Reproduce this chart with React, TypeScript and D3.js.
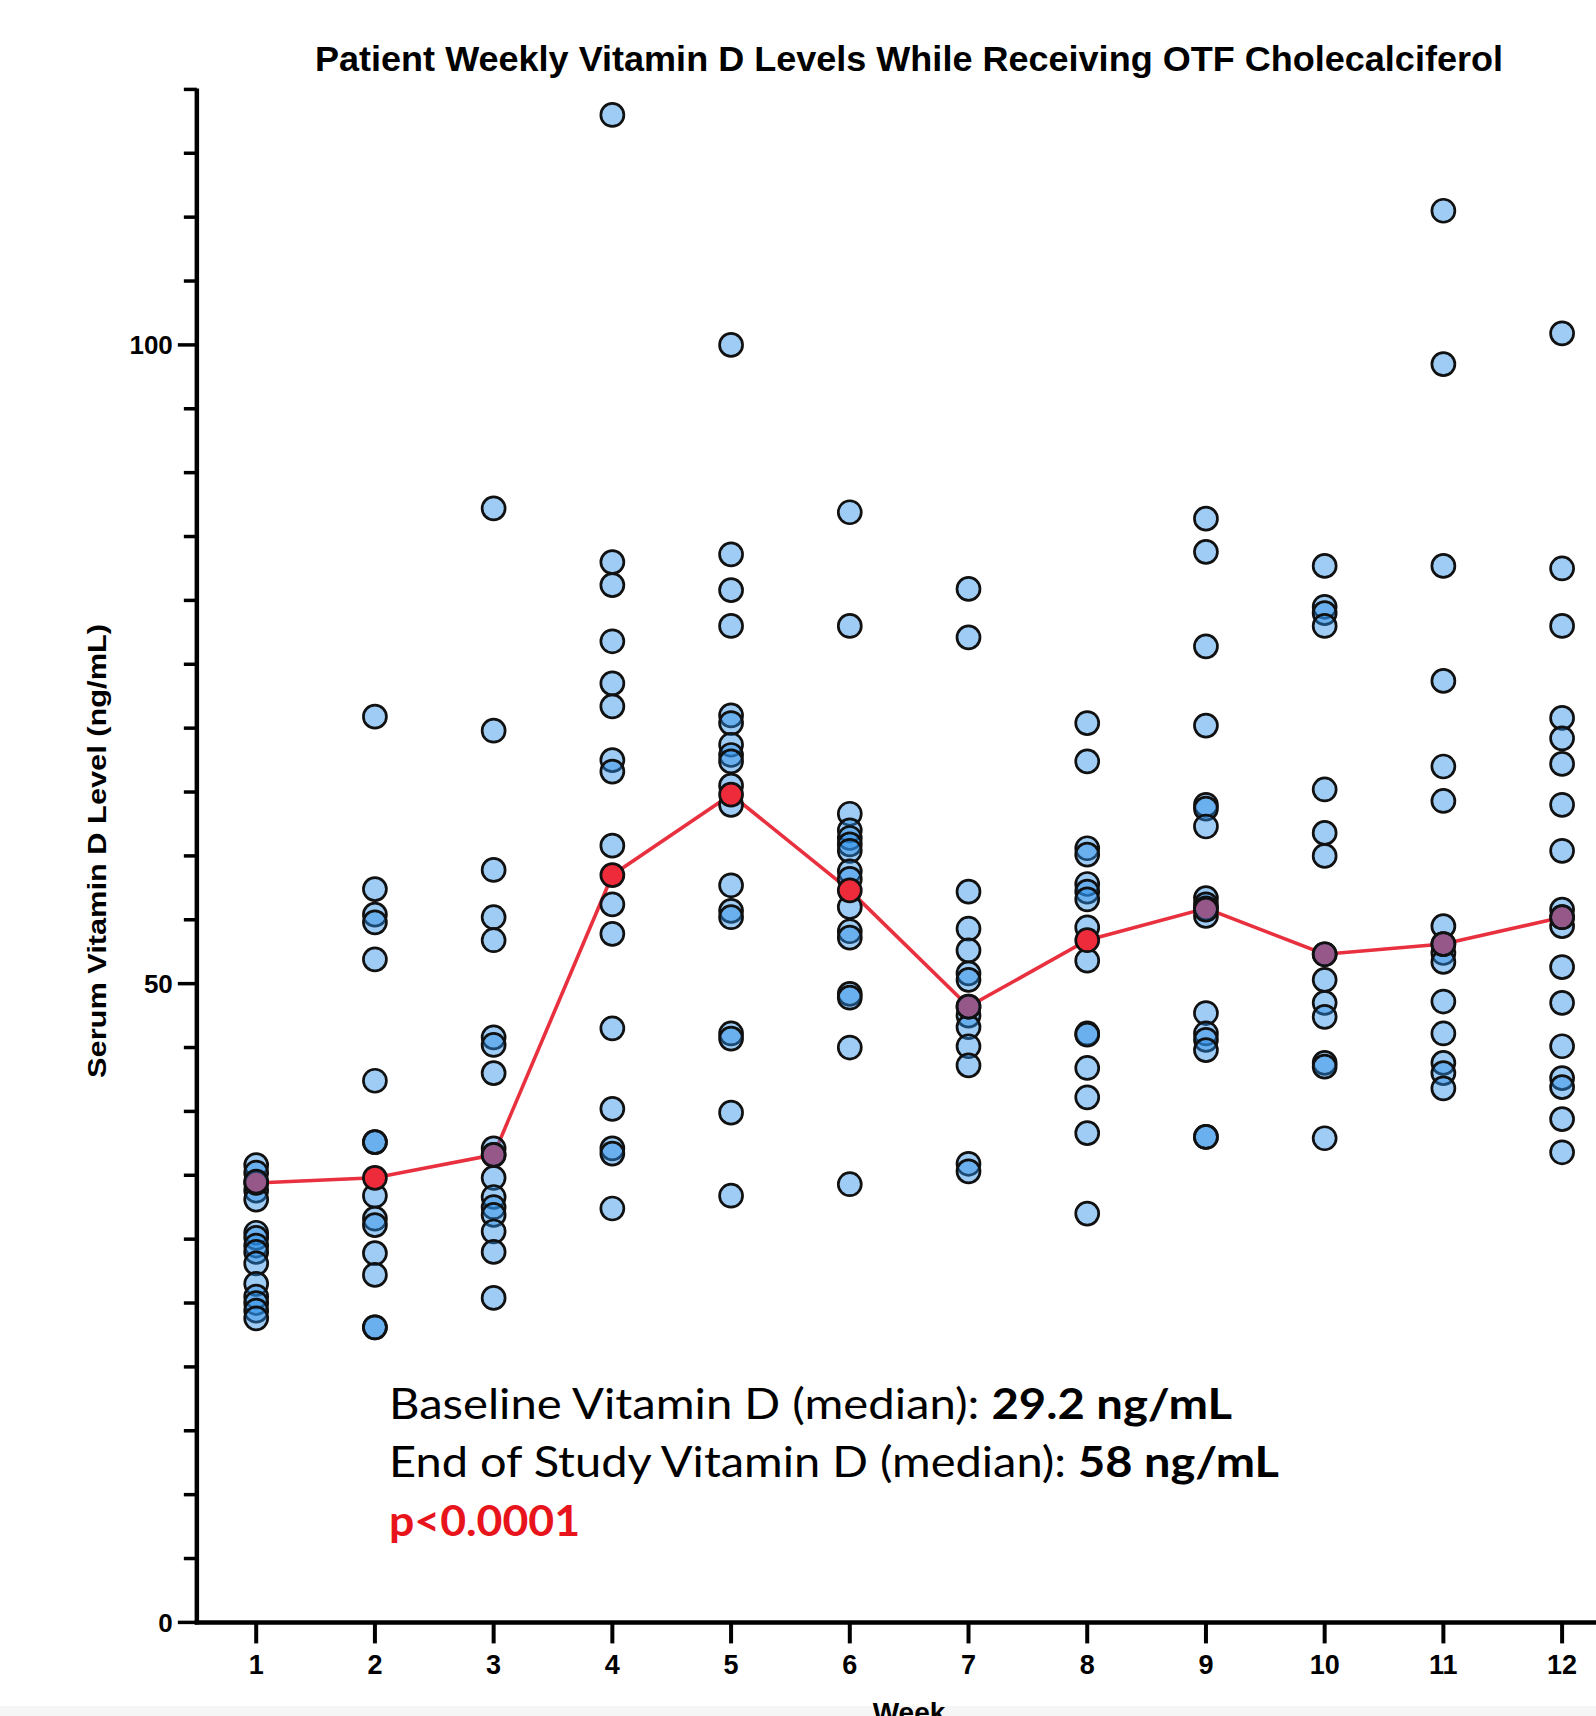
import React from "react";
import * as d3 from "d3";

// ---- data ----
const weeks = [1, 2, 3, 4, 5, 6, 7, 8, 9, 10, 11, 12];
const w1 = [35.8, 35.2, 34.5, 33.8, 33.1, 30.5, 30.1, 29.5, 29.0, 28.1, 26.5, 25.5, 25.0, 24.4, 23.8];
const w2 = [70.9, 57.4, 55.4, 54.8, 51.9, 42.4, 37.6, 37.6, 33.4, 31.6, 31.1, 28.9, 27.2, 23.1, 23.1];
const w3 = [87.2, 69.8, 58.9, 55.2, 53.4, 45.8, 45.2, 43.0, 37.1, 36.6, 34.8, 33.3, 32.5, 31.9, 30.6, 29.0, 25.4];
const w4 = [118.0, 83.0, 81.2, 76.8, 73.5, 71.7, 67.5, 66.6, 60.8, 56.2, 53.9, 46.5, 40.2, 37.1, 36.7, 32.4];
const w5 = [100.0, 83.6, 80.8, 78.0, 71.0, 70.4, 68.7, 67.9, 67.4, 65.5, 64.0, 57.7, 55.7, 55.2, 46.1, 45.7, 39.9, 33.4];
const w6 = [86.9, 78.0, 63.3, 62.0, 61.4, 60.9, 60.4, 58.8, 58.2, 56.0, 54.1, 53.6, 49.2, 48.9, 45.0, 34.3];
const w7 = [80.9, 77.1, 57.2, 54.3, 52.6, 50.8, 50.3, 48.2, 47.5, 46.6, 45.1, 43.6, 35.9, 35.3];
const w8 = [70.4, 67.4, 60.6, 60.1, 57.8, 57.2, 56.6, 54.4, 51.8, 46.1, 46.0, 43.4, 41.1, 38.3, 32.0];
const w9 = [86.4, 83.8, 76.4, 70.2, 64.0, 63.7, 62.3, 56.7, 56.2, 55.8, 55.3, 47.7, 46.1, 45.6, 44.8, 38.0, 38.0];
const w10 = [82.7, 79.5, 79.0, 78.0, 65.2, 61.8, 60.0, 52.3, 50.3, 48.5, 47.4, 43.8, 43.5, 37.9];
const w11 = [110.5, 98.5, 82.7, 73.7, 67.0, 64.3, 54.5, 53.1, 52.4, 51.7, 48.6, 46.1, 43.8, 43.0, 41.8];
const w12 = [100.9, 82.5, 78.0, 70.8, 69.2, 67.2, 64.0, 60.4, 55.8, 55.2, 54.5, 51.3, 48.5, 45.1, 42.6, 41.9, 39.4, 36.8];
const medianLine = [34.4, 34.8, 36.6, 58.5, 64.8, 57.3, 48.2, 53.4, 55.9, 52.3, 53.1, 55.2];
const yMajorTicks = [0, 50, 100];
const weekTickLabels = ["1", "2", "3", "4", "5", "6", "7", "8", "9", "10", "11", "12"];

const title = "Patient Weekly Vitamin D Levels While Receiving OTF Cholecalciferol";
const yTitle = "Serum Vitamin D Level (ng/mL)";
const xTitle = "Week";

const W = 1596;
const H = 1716;

export default function App() {
  const columns = [w1, w2, w3, w4, w5, w6, w7, w8, w9, w10, w11, w12];
  const x = d3.scaleLinear().domain([1, 12]).range([256.2, 1562.1]);
  const y = d3.scaleLinear().domain([0, 120]).range([1622.4, 89.4]);
  const x0 = x(0.5);
  const minorTicks = d3.range(0, 121, 5);
  const line = d3
    .line<number>()
    .x((_, i) => x(weeks[i]))
    .y((d) => y(d));

  const font = "'Liberation Sans', Arial, Helvetica, sans-serif";
  const annoFont = "Lato, 'Open Sans', sans-serif";
  const r = 11.5;

  // points that sit exactly on a median marker are drawn above it
  const pts = columns.flatMap((vals, i) =>
    vals.map((v, j) => ({
      key: `p${i}-${j}`,
      cx: x(weeks[i]),
      cy: y(v),
      onMedian: Math.abs(v - medianLine[i]) < 0.3,
    }))
  );
  const dot = (p: { key: string; cx: number; cy: number }) => (
    <circle
      key={p.key}
      cx={p.cx}
      cy={p.cy}
      r={r}
      fill="#2a8fe8"
      fillOpacity={0.45}
      stroke="#111"
      strokeWidth={2.7}
    />
  );

  return (
    <svg
      width={W}
      height={H}
      viewBox={`0 0 ${W} ${H}`}
      style={{ position: "absolute", left: 0, top: 0, background: "#ffffff" }}
    >
      <rect x={0} y={0} width={W} height={H} fill="#ffffff" />
      <rect x={0} y={1706} width={W} height={H - 1706} fill="#f5f5f5" />

      {/* title */}
      <text
        x={315}
        y={71}
        fontFamily={font}
        fontWeight="bold"
        fontSize={35}
        textLength={1188}
        lengthAdjust="spacingAndGlyphs"
        fill="#000"
      >
        {title}
      </text>

      {/* y axis */}
      <line x1={x0} x2={x0} y1={y(120) - 1} y2={y(0) + 2} stroke="#000" strokeWidth={4.5} />
      {minorTicks.map((t) => (
        <line
          key={"yt" + t}
          x1={x0}
          x2={x0 - (yMajorTicks.includes(t) ? 19 : 13)}
          y1={y(t)}
          y2={y(t)}
          stroke="#000"
          strokeWidth={3.5}
        />
      ))}
      {yMajorTicks.map((t) => (
        <text
          key={"yl" + t}
          x={x0 - 24}
          y={y(t)}
          dy="0.36em"
          textAnchor="end"
          fontFamily={font}
          fontWeight="bold"
          fontSize={26}
          fill="#000"
        >
          {t}
        </text>
      ))}
      <text
        transform={`translate(106,851) rotate(-90)`}
        textAnchor="middle"
        fontFamily={font}
        fontWeight="bold"
        fontSize={26}
        textLength={454}
        lengthAdjust="spacingAndGlyphs"
        fill="#000"
      >
        {yTitle}
      </text>

      {/* x axis */}
      <line x1={x0 - 2} x2={W + 10} y1={y(0)} y2={y(0)} stroke="#000" strokeWidth={4.5} />
      {weeks.map((w, i) => (
        <g key={"xt" + w}>
          <line x1={x(w)} x2={x(w)} y1={y(0)} y2={y(0) + 21} stroke="#000" strokeWidth={4} />
          <text
            x={x(w)}
            y={1674}
            textAnchor="middle"
            fontFamily={font}
            fontWeight="bold"
            fontSize={27}
            fill="#000"
          >
            {weekTickLabels[i]}
          </text>
        </g>
      ))}
      <text x={909} y={1722} textAnchor="middle" fontFamily={font} fontWeight="bold" fontSize={28} fill="#000">
        {xTitle}
      </text>

      {/* median line */}
      <path d={line(medianLine) || ""} fill="none" stroke="#e8303f" strokeWidth={3.6} />

      {/* data points below the median markers */}
      {pts.filter((p) => !p.onMedian).map(dot)}

      {/* median markers */}
      {medianLine.map((v, i) => (
        <circle
          key={"m" + i}
          cx={x(weeks[i])}
          cy={y(v)}
          r={r}
          fill="#ee2b3b"
          stroke="#111"
          strokeWidth={2.7}
        />
      ))}

      {/* data points that coincide with the median */}
      {pts.filter((p) => p.onMedian).map(dot)}

      {/* annotation */}
      <text x={389} y={1419} fontFamily={annoFont} fontSize={42} fill="#000" textLength={843} lengthAdjust="spacingAndGlyphs">
        <tspan>Baseline Vitamin D (median): </tspan>
        <tspan fontWeight="bold">29.2 ng/mL</tspan>
      </text>
      <text x={389} y={1477} fontFamily={annoFont} fontSize={42} fill="#000" textLength={890} lengthAdjust="spacingAndGlyphs">
        <tspan>End of Study Vitamin D (median): </tspan>
        <tspan fontWeight="bold">58 ng/mL</tspan>
      </text>
      <text x={389} y={1536} fontFamily={annoFont} fontSize={42} fontWeight="bold" fill="#e8141c" textLength={191} lengthAdjust="spacingAndGlyphs">
        p&lt;0.0001
      </text>
    </svg>
  );
}
